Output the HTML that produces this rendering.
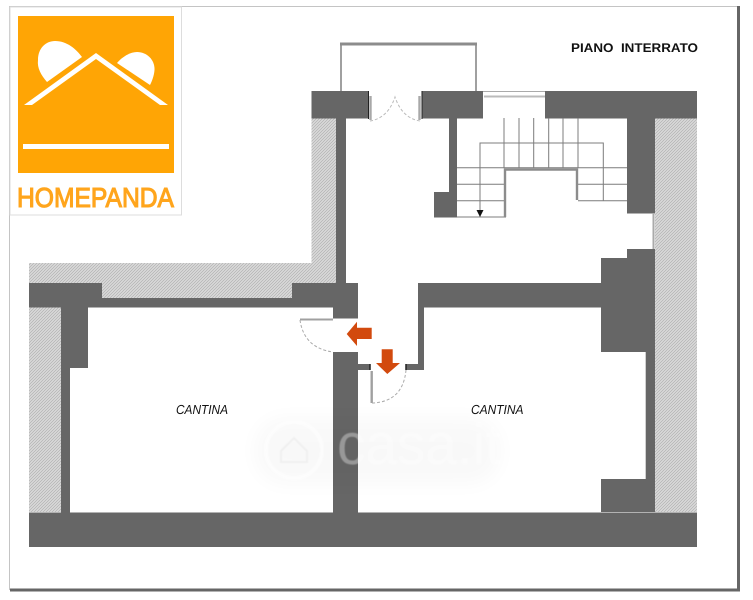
<!DOCTYPE html>
<html>
<head>
<meta charset="utf-8">
<style>
html,body{margin:0;padding:0;background:#fff}
svg{display:block}
text{font-family:"Liberation Sans",sans-serif;text-rendering:geometricPrecision}
</style>
</head>
<body>
<svg width="753" height="600" viewBox="0 0 753 600" xmlns="http://www.w3.org/2000/svg">
<defs>
<pattern id="h" width="3" height="3" patternUnits="userSpaceOnUse">
<rect width="3" height="3" fill="#e0e0e0"/>
<path d="M-1 1L1 -1M0 3L3 0M2 4L4 2" stroke="#b8b8b8" stroke-width="1"/>
</pattern>
<filter id="b" x="-20%" y="-40%" width="140%" height="180%"><feGaussianBlur stdDeviation="10"/></filter>
<filter id="s"><feGaussianBlur stdDeviation="0.6"/></filter>
</defs>
<rect width="753" height="600" fill="#fff"/>
<!-- frame -->
<path d="M9.5 590V6.5H738" fill="none" stroke="#c4c4c4" stroke-width="1"/>
<path d="M738.5 6V590H10" fill="none" stroke="#666" stroke-width="3"/>

<!-- hatch -->
<path d="M311.5 118H336V283H292V298H102V283H29V263H311.5Z" fill="url(#h)"/>
<rect x="29" y="307" width="32" height="205" fill="url(#h)"/>
<rect x="655" y="118" width="42" height="394" fill="url(#h)"/>

<!-- walls -->
<g fill="#666">
<rect x="311.5" y="91" width="57" height="27.5"/>
<rect x="422" y="91" width="61" height="27.5"/>
<rect x="545" y="91" width="152" height="27.5"/>
<rect x="336" y="118" width="10" height="166"/>
<rect x="449" y="118" width="8" height="99"/>
<rect x="434" y="192" width="23" height="25.5"/>
<rect x="627" y="118" width="28" height="95.5"/>
<path d="M627 249H655V512H601V479H645.7V352H601V258H627Z"/>
<path d="M418 283H601V307.5H424V370H406V364H418Z"/>
<path d="M29 283H102V298H292V283H358V318.5H333V307.5H70V368H61V307.5H29Z"/>
<rect x="61" y="307" width="27" height="61"/>
<rect x="61" y="367" width="9" height="146"/>
<rect x="333" y="352" width="25" height="161"/>
<rect x="358" y="364" width="12" height="6"/>
<rect x="29" y="512.5" width="668" height="34.5"/>
</g>

<!-- balcony -->
<path d="M341 91V44H476V91" fill="none" stroke="#a0a0a0" stroke-width="2"/>
<rect x="340" y="42.5" width="137" height="3" fill="#8c8c8c"/>

<!-- top window -->
<path d="M483 91.5H545" stroke="#aaa" stroke-width="1"/>
<path d="M484 96.5H545" stroke="#bbb" stroke-width="2"/>

<!-- side door on the right -->
<path d="M653.5 213V249" stroke="#aaa" stroke-width="2"/>

<!-- stairs -->
<g fill="none" stroke="#7c7c7c" stroke-width="1">
<path d="M504 118V168M519 118V168M533.7 118V168M548.7 118V168M563 118V168M578 118V168"/>
<path d="M480 217V143H603.3V200.7"/>
<path d="M457 167.7H627M457 184.3H505M578 184.3H627M457 200.7H505M578 200.7H627M457 217H506"/>
</g>
<path d="M505 217V169.5H577V200" fill="none" stroke="#8c8c8c" stroke-width="2.4"/>
<path d="M476.5 210H483.5L480 217Z" fill="#111"/>

<!-- top doors -->
<g fill="none">
<path d="M368.5 91V119M422 91V119" stroke="#222" stroke-width="1"/>
<path d="M370.5 96V120M419.5 96V120" stroke="#a8a8a8" stroke-width="2.4"/>
<path d="M370 121Q388 118 395 97Q402 118 420 121" stroke="#bbb" stroke-width="1" stroke-dasharray="3 2"/>
</g>

<!-- door left room -->
<g fill="none">
<path d="M300 319.5H333" stroke="#a0a0a0" stroke-width="2"/>
<path d="M300 320Q304 348 333 352" stroke="#aaa" stroke-width="1" stroke-dasharray="3 2"/>
<path d="M371.7 371V403" stroke="#a0a0a0" stroke-width="2.4"/>
<path d="M372 403Q403 402 406 370" stroke="#aaa" stroke-width="1" stroke-dasharray="3 2"/>
<path d="M370 364V370M406 364V370" stroke="#222" stroke-width="1.5"/>
</g>

<!-- arrows -->
<path d="M346.7 334L357 321.7V327.7H371.7V339H357V346Z" fill="#D24A0E"/>
<path d="M381.7 349.3H392.7V363H400L387.3 374L376 363H381.7Z" fill="#D24A0E"/>

<!-- labels -->
<text x="571" y="52" font-size="12.5" font-weight="bold" fill="#111" textLength="127" lengthAdjust="spacingAndGlyphs" xml:space="preserve">PIANO  INTERRATO</text>
<text x="176" y="414" font-size="13" font-style="italic" fill="#111" textLength="52" lengthAdjust="spacingAndGlyphs">CANTINA</text>
<text x="471" y="414" font-size="13" font-style="italic" fill="#111" textLength="52.5" lengthAdjust="spacingAndGlyphs">CANTINA</text>

<!-- watermark -->
<rect x="255" y="418" width="245" height="66" rx="30" fill="#000" opacity="0.025" filter="url(#b)"/>
<g filter="url(#s)">
<circle cx="294" cy="450" r="28" fill="none" stroke="#fff" stroke-width="4" opacity="0.5"/>
<path d="M281 451L294 438L307 451V462H281Z" fill="none" stroke="#f0f0f0" stroke-width="2"/>
<text x="337" y="464" font-size="58" fill="#fff" fill-opacity="0.34" textLength="164" lengthAdjust="spacingAndGlyphs">casa.it</text>
</g>

<!-- logo -->
<rect x="10" y="7" width="171.5" height="208" fill="#fff" stroke="#ddd" stroke-width="1"/>
<rect x="18" y="16" width="156" height="157" fill="#FFA505"/>
<path d="M47 82C41 75 37 68 38 60C38 48 46 41 55 41C67 41 76 49 82 57Z" fill="#fff"/>
<path d="M117 63C122 57 130 52 137 52C147 52 155 60 154.5 70C154 76 152 81 150 85Z" fill="#fff"/>
<path d="M24 105L96 53L168 105H160L96 59L32 105Z" fill="#fff"/>
<rect x="23" y="144" width="146" height="5" fill="#fff"/>
<text x="17" y="207" font-size="27.5" fill="#FFA51C" stroke="#FFA51C" stroke-width="1.1" textLength="157" lengthAdjust="spacingAndGlyphs">HOMEPANDA</text>
</svg>
</body>
</html>
